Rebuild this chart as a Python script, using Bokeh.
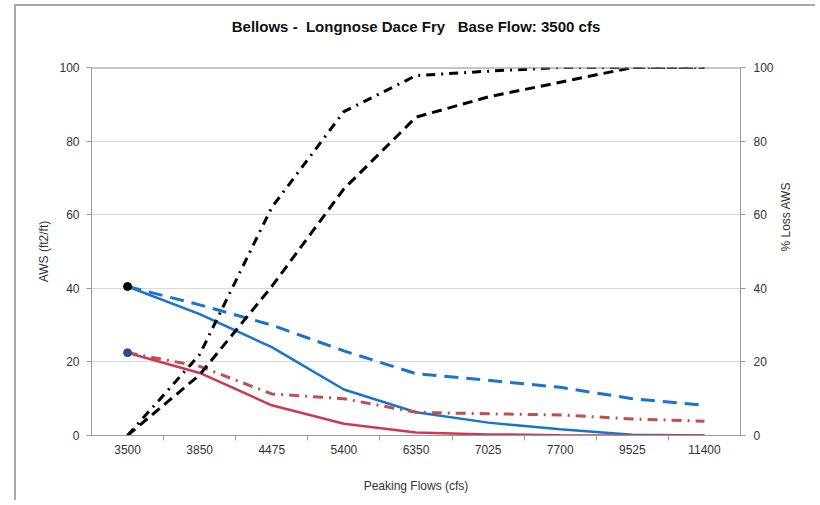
import math
from bokeh.plotting import figure
from bokeh.models import Range1d, LinearAxis, FixedTicker, Span, Title
from bokeh.embed import file_html
from bokeh.resources import INLINE

# ---- data ----
flows = ["3500", "3850", "4475", "5400", "6350", "7025", "7700", "9525", "11400"]
aws_blue_solid = [40.5, 33.0, 24.0, 12.5, 6.3, 3.5, 1.7, 0.2, 0.0]
aws_blue_dashed = [40.5, 35.5, 30.0, 23.0, 16.8, 15.0, 13.1, 10.0, 8.2]
aws_red_solid = [22.5, 17.0, 8.2, 3.2, 0.8, 0.3, 0.1, 0.0, 0.0]
aws_red_dashdot = [22.5, 18.8, 11.3, 10.0, 6.3, 5.9, 5.6, 4.5, 3.9]
loss_dashdot = [0.0, 22.0, 62.0, 88.0, 97.8, 99.0, 100.0, 100.0, 100.0]
loss_dashed = [0.0, 16.5, 40.5, 67.0, 86.5, 92.0, 96.0, 100.0, 100.0]
y_ticks = [0, 20, 40, 60, 80, 100]

x = list(range(len(flows)))
FONT = "Liberation Sans"
NB = "\u00a0"

p = figure(width=801, height=496, output_backend="svg", toolbar_location=None,
           x_range=Range1d(-0.5, len(flows) - 0.5), y_range=Range1d(0, 100),
           min_border_left=75, min_border_right=77, min_border_top=61,
           min_border_bottom=67, x_axis_location=None, y_axis_location=None)
p.styles = {"border-left": "2px solid #a8a8a8", "border-top": "2px solid #a8a8a8",
            "margin-left": "14px", "margin-top": "4px"}
p.extra_y_ranges = {"loss": Range1d(0, 100)}
p.outline_line_color = None
p.background_fill_color = "white"
p.border_fill_color = "white"

# spacer between frame and title
p.add_layout(Title(text=NB, text_font_size="1px", standoff=25), "above")

p.title.text = f"Bellows -{NB} Longnose Dace Fry {NB}{NB}Base Flow: 3500 cfs"
p.title.text_font = FONT
p.title.text_font_size = "15px"
p.title.text_font_style = "bold"
p.title.align = "center"
p.title.text_color = "#111111"
p.title.standoff = 10

# x axis
xa = LinearAxis(axis_label="Peaking Flows (cfs)")
xa.ticker = FixedTicker(ticks=x, minor_ticks=[i + 0.5 for i in x[:-1]])
xa.major_label_overrides = {i: f for i, f in enumerate(flows)}
p.add_layout(xa, "below")

# left y axis
ya = LinearAxis(axis_label="AWS (ft2/ft)", ticker=FixedTicker(ticks=y_ticks))
p.add_layout(ya, "left")
# right y axis
yb = LinearAxis(axis_label="% Loss AWS", y_range_name="loss",
                ticker=FixedTicker(ticks=y_ticks))
p.add_layout(yb, "right")

for ax in (xa, ya, yb):
    ax.axis_line_color = "#9a9a9a"
    ax.major_label_text_font = FONT
    ax.major_label_text_font_size = "12px"
    ax.major_label_text_color = "#333333"
    ax.axis_label_text_font = FONT
    ax.axis_label_text_font_size = "12px"
    ax.axis_label_text_font_style = "normal"
    ax.axis_label_text_color = "#333333"
    ax.major_tick_line_color = "#9a9a9a"
    ax.major_tick_out = 5
    ax.major_tick_in = 0
    ax.minor_tick_line_color = None

xa.major_tick_line_color = None
xa.minor_tick_line_color = "#9a9a9a"
xa.minor_tick_out = 5
xa.minor_tick_in = 0
xa.major_label_standoff = 4
xa.axis_label_standoff = 22
ya.major_label_standoff = 7
ya.axis_label_standoff = 5
yb.major_label_standoff = 8
yb.axis_label_standoff = 9
yb.axis_label_orientation = math.pi / 2

# grid
p.xgrid.grid_line_color = None
p.ygrid.ticker = FixedTicker(ticks=[20, 40, 60, 80])
p.ygrid.grid_line_color = "#d9d9d9"
p.add_layout(Span(location=100, dimension="width", line_color="#8c8c8c", line_width=2))

# series
BLUE = "#1874cd"
RED = "#d0384f"
RED2 = "#c0504d"
p.line(x, aws_blue_solid, line_color=BLUE, line_width=2.5)
p.line(x, aws_blue_dashed, line_color=BLUE, line_width=3, line_dash="14 8")
p.line(x, aws_red_solid, line_color=RED, line_width=2.5)
p.line(x, aws_red_dashdot, line_color=RED2, line_width=3, line_dash="10 6 2 6")
p.line(x, loss_dashdot, line_color="black", line_width=3, line_dash="9 6 2 6",
       y_range_name="loss")
p.line(x, loss_dashed, line_color="black", line_width=3, line_dash="10 6",
       y_range_name="loss")
p.scatter([x[0]], [aws_blue_solid[0]], size=8, color="black")
p.scatter([x[0]], [aws_red_solid[0]], size=8, color="#2e4a8a")

open("out.html", "w").write(file_html(p, INLINE))
